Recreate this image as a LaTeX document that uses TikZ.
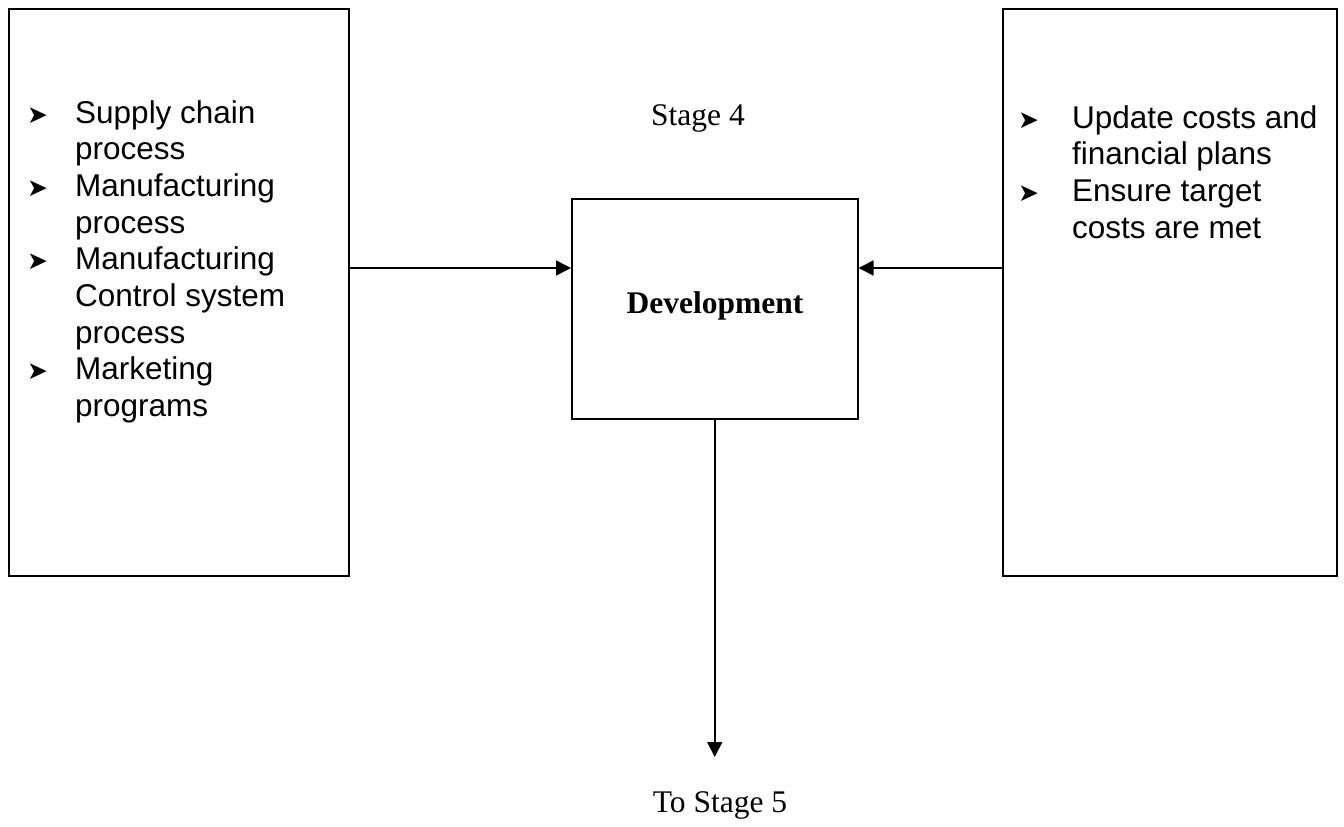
\documentclass[tikz,border=0pt]{standalone}
\usepackage{fontspec}
\setmainfont{Liberation Serif}
\newfontfamily\arialf{Liberation Sans}
\newfontfamily\dejavu{DejaVu Sans}
\usetikzlibrary{arrows.meta}
\newcommand{\bul}{{\dejavu\fontsize{25}{25}\selectfont ➤}}
\begin{document}
\begin{tikzpicture}[x=1pt,y=-1pt,
  box/.style={draw, line width=1.5pt, inner sep=0pt, anchor=north west},
  arr/.style={line width=1.6pt, -{Triangle[length=15pt,width=15pt]}},
  lst/.style={anchor=base west, inner sep=0pt, font=\arialf\fontsize{31.5}{36.7}\selectfont},
  ttl/.style={anchor=base, inner sep=0pt, font=\fontsize{31.5}{36}\selectfont}]
\useasboundingbox (0,0) rectangle (1344,827);
\node[box, minimum width=340pt, minimum height=567pt] (L) at (8,8) {};
\node[box, minimum width=286pt, minimum height=220pt] (C) at (571,198) {};
\node[box, minimum width=334pt, minimum height=567pt] (R) at (1002,8) {};
\node[lst] (ltext) at (27,123) {\begin{tabular}[t]{@{}p{48pt}@{}l@{}}
\bul & Supply chain\\
 & process\\
\bul & Manufacturing\\
 & process\\
\bul & Manufacturing\\
 & Control system\\
 & process\\
\bul & Marketing\\
 & programs
\end{tabular}};
\node[lst] (rtext) at (1018,128) {\begin{tabular}[t]{@{}p{54pt}@{}l@{}}
\bul & Update costs and\\
 & financial plans\\
\bul & Ensure target\\
 & costs are met
\end{tabular}};
\node[ttl] (s4) at (698,125) {Stage 4};
\node[ttl, font=\fontsize{31.5}{36}\selectfont\bfseries] (dev) at (715,313) {Development};
\node[ttl] (s5) at (720,812) {To Stage 5};
\coordinate (ay) at (0,268);
\coordinate (dn) at (0,757);
\draw[arr] (L.east |- ay) -- (C.west |- ay);
\draw[arr] (R.west |- ay) -- (C.east |- ay);
\draw[arr] (C.south) -- (C.south |- dn);
\end{tikzpicture}
\end{document}
